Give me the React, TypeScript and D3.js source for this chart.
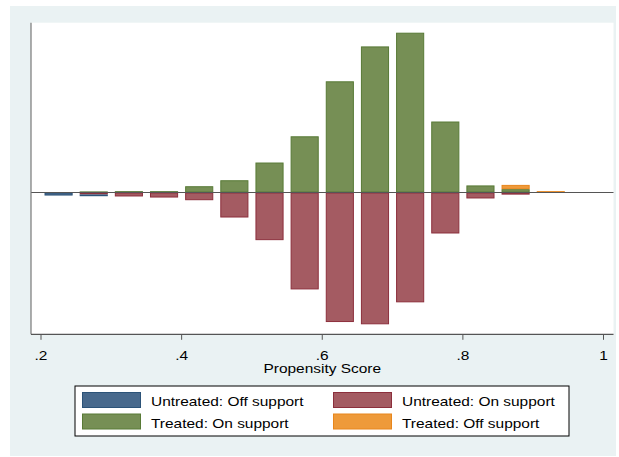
import React from "react";
import * as d3 from "d3";

// bin midpoints of the propensity score histogram (width .05)
const binMids = [0.225, 0.275, 0.325, 0.375, 0.425, 0.475, 0.525, 0.575, 0.625, 0.675, 0.725, 0.775, 0.825, 0.875, 0.925];
// heights (no y labels in the original, relative units)
const untreatedOff = [2.3, 1.3, 0, 0, 0, 0, 0, 0, 0, 0, 0, 0, 0, 0, 0];
const untreatedOn = [0, 1.5, 3, 3.8, 5.8, 18.8, 35.8, 72.8, 97.3, 99, 82.5, 30.8, 4.5, 1.6, 0];
const treatedOn = [0, 0.8, 1, 1, 4.7, 9.2, 22.5, 42.2, 83.5, 109.7, 120, 53.3, 5.3, 2.5, 0];
const treatedOff = [0, 0, 0, 0, 0, 0, 0, 0, 0, 0, 0, 0, 0, 3.2, 1];
const xTicks = [0.2, 0.4, 0.6, 0.8, 1];

const series = [
  { label: "Untreated: Off support", fill: "#48698c", stroke: "#2c5378" },
  { label: "Untreated: On support", fill: "#a45b62", stroke: "#8c2f3c" },
  { label: "Treated: On support", fill: "#768f55", stroke: "#587a36" },
  { label: "Treated: Off support", fill: "#ee9a3a", stroke: "#e8861c" },
];

const W = 619;
const H = 457;
const plot = { left: 31, right: 613.5, top: 22.7, bottom: 334.3 };
const pad = 10; // stata plot region margin
const barWidth = 0.04;
const font = "Liberation Sans, Arial, sans-serif";
const stretch = 1.19; // the exported graph is a bit wider than tall, text too

const Label = ({ x, y, anchor, children }: { x: number; y: number; anchor?: string; children: React.ReactNode }) => (
  <text
    transform={`translate(${x},${y}) scale(${stretch},1)`}
    textAnchor={anchor || "start"}
    fontSize={13}
    fill="#000"
  >
    {children}
  </text>
);

export default function App() {
  // stacked: untreated go down (on support first, then off support), treated go up
  const bars: { x: number; y0: number; y1: number; s: number }[] = [];
  binMids.forEach((m, i) => {
    const uOn = untreatedOn[i];
    const uOff = untreatedOff[i];
    const tOn = treatedOn[i];
    const tOff = treatedOff[i];
    if (uOn > 0) bars.push({ x: m, y0: 0, y1: -uOn, s: 1 });
    if (uOff > 0) bars.push({ x: m, y0: -uOn, y1: -uOn - uOff, s: 0 });
    if (tOn > 0) bars.push({ x: m, y0: 0, y1: tOn, s: 2 });
    if (tOff > 0) bars.push({ x: m, y0: tOn, y1: tOn + tOff, s: 3 });
  });
  const yMin = d3.min(bars, (b) => Math.min(b.y0, b.y1)) ?? 0;
  const yMax = d3.max(bars, (b) => Math.max(b.y0, b.y1)) ?? 1;

  const x = d3.scaleLinear().domain([0.2, 1]).range([plot.left + pad, plot.right - pad]);
  const y = d3.scaleLinear().domain([yMin, yMax]).range([plot.bottom - pad, plot.top + pad]);
  const fmt = (v: number) => (v === 1 ? "1" : d3.format(".1f")(v).replace(/^0/, ""));

  // legend
  const leg = { x: 75, y: 386, w: 494, h: 50 };
  const legPos = [
    { sx: 82, tx: 151, row: 0 },
    { sx: 333, tx: 402, row: 0 },
    { sx: 82, tx: 151, row: 1 },
    { sx: 333, tx: 402, row: 1 },
  ];

  return (
    <svg width={W} height={H} style={{ position: "absolute", left: 0, top: 0 }} fontFamily={font}>
      <rect x={0} y={0} width={W} height={H} fill="#ffffff" />
      <rect x={10} y={6} width={606} height={450} fill="#eaf2f3" />
      <rect x={plot.left} y={plot.top} width={plot.right - plot.left} height={plot.bottom - plot.top} fill="#ffffff" />

      {bars.map((b, i) => {
        const x0 = x(b.x - barWidth / 2);
        const x1 = x(b.x + barWidth / 2);
        const top = y(Math.max(b.y0, b.y1));
        const bot = y(Math.min(b.y0, b.y1));
        return (
          <rect
            key={i}
            x={x0 + 0.5}
            y={top + 0.5}
            width={Math.max(0, x1 - x0 - 1)}
            height={Math.max(0.6, bot - top - 1)}
            fill={series[b.s].fill}
            stroke={series[b.s].stroke}
            strokeWidth={1}
          />
        );
      })}

      {/* zero line */}
      <line x1={plot.left} x2={plot.right} y1={y(0)} y2={y(0)} stroke="#555555" strokeWidth={1.2} />

      {/* axes */}
      <line x1={plot.left} x2={plot.left} y1={plot.top} y2={plot.bottom} stroke="#777777" strokeWidth={1.2} />
      <line x1={plot.left} x2={plot.right} y1={plot.bottom} y2={plot.bottom} stroke="#555555" strokeWidth={1.2} />
      {xTicks.map((t) => (
        <g key={t}>
          <line x1={x(t)} x2={x(t)} y1={plot.bottom} y2={plot.bottom + 5.5} stroke="#555555" strokeWidth={1} />
          <Label x={x(t)} y={359.5} anchor="middle">
            {fmt(t)}
          </Label>
        </g>
      ))}
      <Label x={(x(0.2) + x(1)) / 2} y={372.5} anchor="middle">
        Propensity Score
      </Label>

      <rect x={leg.x} y={leg.y} width={leg.w} height={leg.h} fill="#ffffff" stroke="#000" strokeWidth={1} />
      {series.map((s, i) => {
        const p = legPos[i];
        const sy = 392 + p.row * 21.5;
        return (
          <g key={s.label}>
            <rect x={p.sx + 0.5} y={sy + 0.5} width={58} height={15} fill={s.fill} stroke={s.stroke} strokeWidth={1} />
            <Label x={p.tx} y={405.7 + p.row * 22.6}>
              {s.label}
            </Label>
          </g>
        );
      })}
    </svg>
  );
}
